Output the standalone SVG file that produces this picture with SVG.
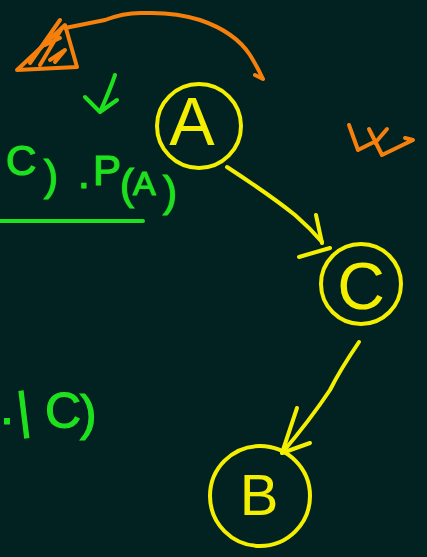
<svg xmlns="http://www.w3.org/2000/svg" width="427" height="557" viewBox="0 0 427 557">
<style>
.bg{fill:#012220}
.node circle{fill:none;stroke:#f4ef00;stroke-width:4}
.node text{fill:#f4ef00;font-family:"Liberation Sans",Arial,sans-serif;text-anchor:middle}
.conn path{fill:none;stroke:#f4ef00;stroke-width:4;stroke-linecap:round;stroke-linejoin:round}
.or{fill:none;stroke:#f77f0c;stroke-width:4;stroke-linecap:round;stroke-linejoin:round}
.gr{fill:none;stroke:#1fe01f;stroke-width:4;stroke-linecap:round;stroke-linejoin:round}
.gt{fill:#1fe01f;stroke:#1fe01f;stroke-width:1.2;font-family:"Liberation Sans",Arial,sans-serif}
</style>
<rect class="bg" x="0" y="0" width="427" height="557"/>
<g id="notes-orange">
<path class="or" d="M65,28 Q95,22 105,20 Q125,12 145,13 Q175,12 200,20 Q235,32 250,55 Q258,68 263,79 L255,75"/>
<path class="or" d="M17,70 L65,25 L77,67 Z"/>
<path class="or" d="M60,20 L30,63 M62,28 L40,65 M50,60 L65,50 L55,62 M45,45 L60,38"/>
<path class="or" d="M349,125 L358,150 L372,143 M369,129 L382,155 L413,140 L405,138 M387,129 L375,143"/>
</g>
<g id="notes-green">
<path class="gr" d="M85,97 L100,112 L117,100 M115,75 Q110,90 100,112"/>
<line class="gr" x1="0" y1="221" x2="143" y2="221"/>
<text class="gt" font-size="42"><tspan x="6" y="175">C</tspan><tspan x="44" y="190">)</tspan><tspan x="78" y="188">.</tspan><tspan x="93" y="185">P</tspan><tspan x="120" y="199">(</tspan><tspan x="133" y="195" font-size="34">A</tspan><tspan x="163" y="206">)</tspan></text>
<text class="gt" font-size="50"><tspan x="0" y="424">.</tspan><tspan x="19" y="428" rotate="-7">|</tspan><tspan x="45" y="428">C</tspan><tspan x="80" y="430">)</tspan></text>
</g>
<g id="node-A" class="node"><circle cx="199" cy="126" r="42"/><text x="192" y="145" font-size="68">A</text></g>
<g id="node-C" class="node"><circle cx="361" cy="284" r="40"/><text x="361" y="309" font-size="66">C</text></g>
<g id="node-B" class="node"><circle cx="260" cy="496" r="50"/><text x="259" y="515" font-size="58">B</text></g>
<g id="connectors" class="conn">
<path d="M227,167 Q270,195 295,215 Q310,228 322,242"/>
<path d="M316,215 L322,243 M299,257 L330,248"/>
<path d="M359,342 Q340,370 330,390 Q310,420 282,453"/>
<path d="M297,408 L282,453 L310,443"/>
</g>
</svg>
